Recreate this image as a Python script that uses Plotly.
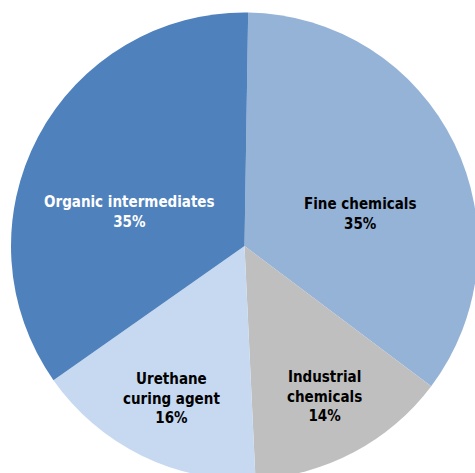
import math
import plotly.graph_objects as go

# Market share by application segment
categories = ["Fine chemicals", "Industrial chemicals", "Urethane curing agent", "Organic intermediates"]
display_labels = ["Fine chemicals", "Industrial<br>chemicals", "Urethane<br>curing agent", "Organic intermediates"]
shares = [35, 14, 16, 35]

colors = ["#95B3D7", "#BFBFBF", "#C6D9F1", "#4F81BD"]
text_colors = ["#000000", "#000000", "#000000", "#FFFFFF"]

# Canvas slightly larger than the viewport so the pie bleeds off the right and bottom edges
W, H = 490, 492
cx, cy, r = 244.5, 246.0, 233.5  # pie centre and radius in pixels (from top-left)
rotation = 0.9

fig = go.Figure(
    go.Pie(
        labels=categories,
        values=shares,
        sort=False,
        direction="clockwise",
        rotation=rotation,
        marker=dict(colors=colors, line=dict(width=0)),
        textinfo="none",
        hoverinfo="label+percent",
        showlegend=False,
        domain=dict(
            x=[(cx - r) / W, (cx + r) / W],
            y=[1 - (cy + r) / H, 1 - (cy - r) / H],
        ),
    )
)

# Label placement: angle (clockwise from 12 o'clock) and fraction of the radius
label_polar = [(74.6, 0.517), (151.8, 0.729), (205.6, 0.722), (286.2, 0.515)]

for lab, val, col, (ang, frac) in zip(display_labels, shares, text_colors, label_polar):
    a = math.radians(ang)
    px = cx + frac * r * math.sin(a)
    py = cy - frac * r * math.cos(a)
    fig.add_annotation(
        x=px / W,
        y=1 - py / H,
        xref="paper",
        yref="paper",
        text=f"<b>{lab}<br>{val}%</b>",
        showarrow=False,
        xanchor="center",
        yanchor="middle",
        align="center",
        font=dict(family="DejaVu Sans Condensed, DejaVu Sans, sans-serif", size=15, color=col),
    )

fig.update_layout(
    width=W,
    height=H,
    margin=dict(l=0, r=0, t=0, b=0),
    paper_bgcolor="white",
    plot_bgcolor="white",
)

fig.write_html(
    "out.html",
    post_script="document.documentElement.style.overflow='hidden';document.body.style.overflow='hidden';document.body.style.margin='0';",
)
